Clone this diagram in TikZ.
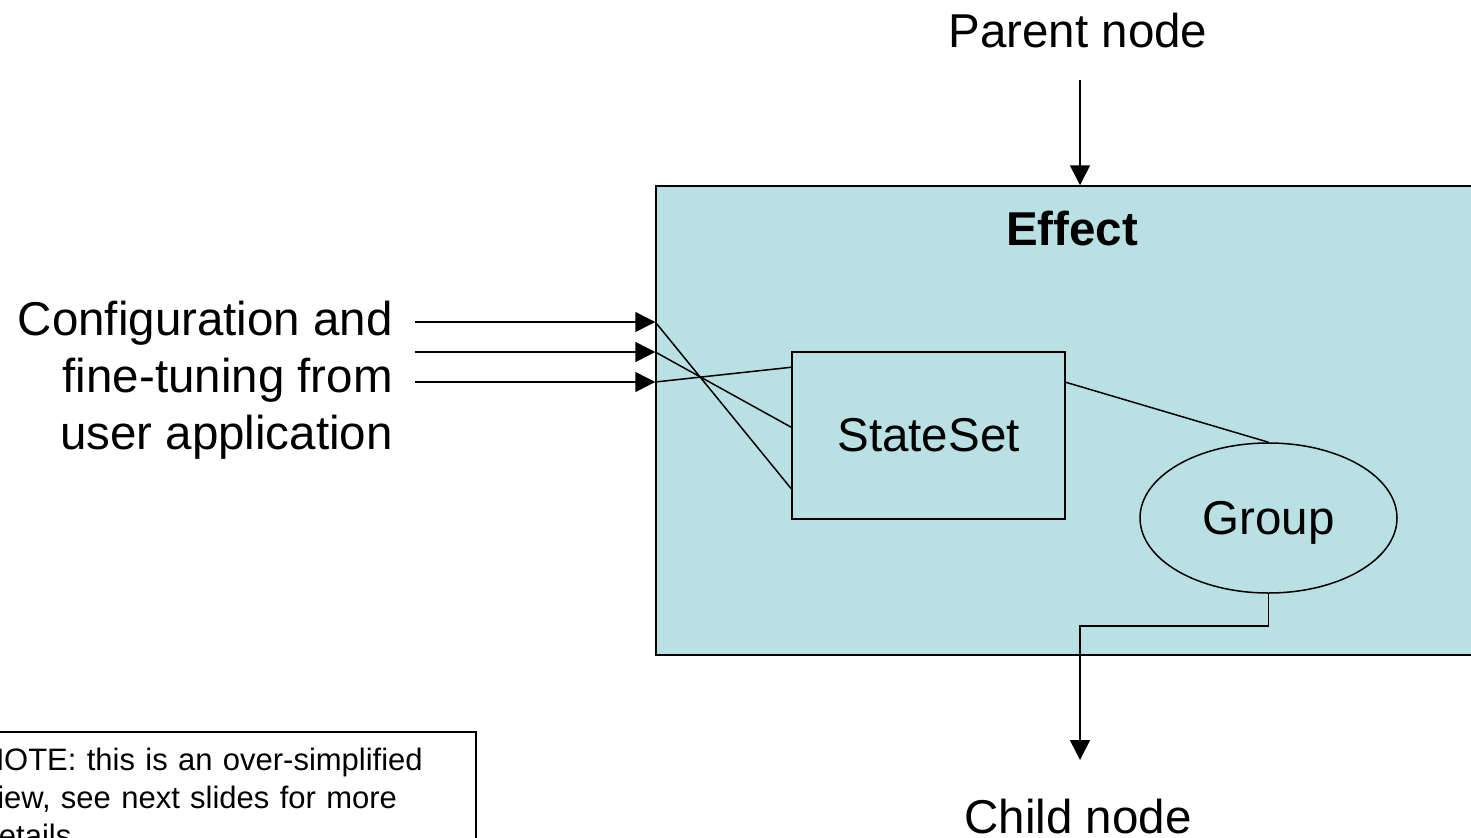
\documentclass[tikz,border=0pt]{standalone}
\usepackage{fontspec}
\setmainfont{Liberation Sans}
\usepackage{tikz}
\usetikzlibrary{arrows.meta,shapes.geometric}
\definecolor{effectfill}{RGB}{185,224,227}

\tikzset{
  flow/.style={line width=1.5bp,-{Triangle[length=20bp,width=20bp]}},
  wire/.style={line width=1.5bp},
  bigtext/.style={font=\fontsize{47.5bp}{57bp}\selectfont,inner sep=0pt}
}

\begin{document}
\begin{tikzpicture}
\useasboundingbox (0bp,0bp) rectangle (1471bp,-838bp);
\clip (0bp,0bp) rectangle (1471bp,-838bp);

\node (Effect) at (1068bp,-420.5bp)[draw,line width=1.5bp,fill=effectfill,minimum width=824bp,minimum height=469bp,inner sep=0pt] {};
\node (EffectLbl) at (1072bp,-245bp)[bigtext,anchor=base,font=\fontsize{47.5bp}{57bp}\selectfont\bfseries] {Effect};
\node (StateSet) at (928.5bp,-435.5bp)[draw,line width=1.5bp,minimum width=273bp,minimum height=167bp,bigtext] {StateSet};
\node (Group) at (1268.5bp,-518bp)[draw,ellipse,line width=1.5bp,minimum width=257bp,minimum height=150bp,bigtext,text depth=0pt] {Group};

\node (Parent) at (1078bp,-47bp)[bigtext,anchor=base] {Parent node};
\node (Child) at (1078bp,-833bp)[bigtext,anchor=base] {Child node};
\node (Config) at (393bp,-449bp)[bigtext,anchor=base east,align=right] {Configuration and\\fine-tuning from\\user application};
\node (Note) at (-29bp,-731bp)[draw,line width=1.5bp,anchor=north west,text width=484bp,inner xsep=10bp,inner ysep=16bp,align=left,font=\fontsize{31bp}{38bp}\selectfont] {NOTE: this is an over-simplified\\view, see next slides for more\\details};

\coordinate (ParentOut) at (1080bp,-80bp);
\coordinate (ChildIn) at (1080bp,-760bp);
\coordinate (Src1) at (415bp,-322bp);
\coordinate (Src2) at (415bp,-352bp);
\coordinate (Src3) at (415bp,-382bp);

% parent / child flow
\draw [flow] (ParentOut) -- (ParentOut |- Effect.north);
\draw [flow] (Group.south) -- ++(0,-32bp) -| (ChildIn);

% inputs from the application
\draw [flow] (Src1) -- (Src1 -| Effect.west);
\draw [flow] (Src2) -- (Src2 -| Effect.west);
\draw [flow] (Src3) -- (Src3 -| Effect.west);
\draw [wire] (Src1 -| Effect.west) -- ([yshift=31bp]StateSet.south west);
\draw [wire] (Src2 -| Effect.west) -- ([yshift=-76bp]StateSet.north west);
\draw [wire] (Src3 -| Effect.west) -- ([yshift=-16bp]StateSet.north west);
\draw [wire] ([yshift=-31bp]StateSet.north east) -- (Group.north);
\end{tikzpicture}
\end{document}
